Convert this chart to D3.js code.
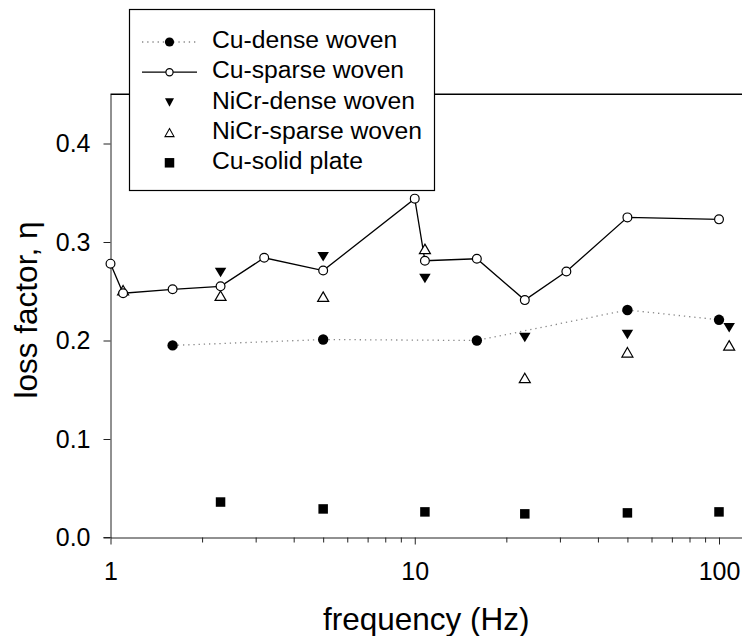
<!DOCTYPE html>
<html>
<head>
<meta charset="utf-8">
<script src="https://cdn.jsdelivr.net/npm/d3@7"></script>
<style>
    body { margin: 0; background: #fff; }
    svg { display: block; }
    text { font-family: "Liberation Sans", Arial, sans-serif; fill: #000; }
</style>
</head>
<body>
<div id="chart"></div>
<script>
// data
let cuDenseFreq = [1.6, 5, 16, 50, 100];
let cuDenseLoss = [0.195, 0.201, 0.2, 0.231, 0.221];

let cuSparseFreq = [1, 1.1, 1.6, 2.3, 3.2, 5, 10, 10.8, 16, 23, 31.5, 50, 100];
let cuSparseLoss = [0.278, 0.248, 0.252, 0.255, 0.284, 0.271, 0.344, 0.281, 0.283, 0.241, 0.27, 0.325, 0.323];

let nicrDenseFreq = [2.3, 5, 10.8, 23, 50, 108];
let nicrDenseLoss = [0.269, 0.285, 0.263, 0.203, 0.206, 0.213];

let nicrSparseFreq = [1.1, 2.3, 5, 10.8, 23, 50, 108];
let nicrSparseLoss = [0.251, 0.2455, 0.2445, 0.293, 0.162, 0.188, 0.195];

let cuSolidFreq = [2.3, 5, 10.8, 23, 50, 100];
let cuSolidLoss = [0.036, 0.029, 0.026, 0.024, 0.025, 0.026];

let legendNames = ["Cu-dense woven", "Cu-sparse woven", "NiCr-dense woven", "NiCr-sparse woven", "Cu-solid plate"];
let yTicks = [0, 0.1, 0.2, 0.3, 0.4];
let xMajorTicks = [1, 10, 100];

// init variables
let svgWidth = 742;
let svgHeight = 636;
let plotLeft = 110.5;
let plotBottom = 537.5;
let plotTop = 94.25;
let decade = 304.25;

let x = d3.scaleLog().domain([1, 120]).range([plotLeft, plotLeft + decade * Math.log10(120)]);
let y = d3.scaleLinear().domain([0, 0.45]).range([plotBottom, plotTop]);

let svg = d3.select("#chart").append("svg")
    .attr("width", svgWidth)
    .attr("height", svgHeight);

// top frame line
svg.append("line")
    .attr("x1", plotLeft).attr("x2", svgWidth)
    .attr("y1", y(0.45)).attr("y2", y(0.45))
    .attr("stroke", "#000").attr("stroke-width", 1.4);

// y axis
let yAxis = svg.append("g")
    .attr("transform", "translate(" + plotLeft + ",0)")
    .call(d3.axisLeft(y).tickValues(yTicks).tickFormat(d3.format(".1f")).tickSize(7).tickPadding(13).tickSizeOuter(0));
yAxis.select(".domain").attr("stroke", "#222");
yAxis.selectAll(".tick line").attr("stroke", "#222");
yAxis.selectAll("text").attr("font-size", "25px").attr("fill", "#000");

// x axis, minor ticks first
let minorTicks = x.ticks().filter(function (d) { return xMajorTicks.indexOf(d) < 0; });
let xMinor = svg.append("g")
    .attr("transform", "translate(0," + plotBottom + ")")
    .call(d3.axisBottom(x).tickValues(minorTicks).tickFormat("").tickSize(5).tickSizeOuter(0));
xMinor.select(".domain").attr("stroke", "#222");
xMinor.selectAll(".tick line").attr("stroke", "#222");

let xAxis = svg.append("g")
    .attr("transform", "translate(0," + plotBottom + ")")
    .call(d3.axisBottom(x).tickValues(xMajorTicks).tickFormat(d3.format("d")).tickSize(7).tickPadding(18).tickSizeOuter(0));
xAxis.select(".domain").remove();
xAxis.selectAll(".tick line").attr("stroke", "#222");
xAxis.selectAll("text").attr("font-size", "25px").attr("fill", "#000");

// x axis line runs a bit left of the y axis
svg.append("line")
    .attr("x1", plotLeft - 7).attr("x2", plotLeft)
    .attr("y1", plotBottom).attr("y2", plotBottom)
    .attr("stroke", "#222");

// axis titles
svg.append("text")
    .attr("x", (plotLeft + svgWidth) / 2)
    .attr("y", 630)
    .attr("text-anchor", "middle")
    .attr("font-size", "31.5px")
    .text("frequency (Hz)");

svg.append("text")
    .attr("transform", "translate(37,310) rotate(-90)")
    .attr("text-anchor", "middle")
    .attr("font-size", "31.5px")
    .text("loss factor, η");

// marker helpers
function triPath(w, h, up) {
    let s = up ? 1 : -1;
    return "M0," + (-s * h / 2) + "L" + (w / 2) + "," + (s * h / 2) + "L" + (-w / 2) + "," + (s * h / 2) + "Z";
}
function squarePath(w) {
    return "M" + (-w / 2) + "," + (-w / 2) + "h" + w + "v" + w + "h" + (-w) + "Z";
}

function zip(fs, vs) {
    return fs.map(function (f, i) { return { f: f, v: vs[i] }; });
}

let line = d3.line()
    .x(function (d) { return x(d.f); })
    .y(function (d) { return y(d.v); });

let cuDense = zip(cuDenseFreq, cuDenseLoss);
let cuSparse = zip(cuSparseFreq, cuSparseLoss);
let nicrDense = zip(nicrDenseFreq, nicrDenseLoss);
let nicrSparse = zip(nicrSparseFreq, nicrSparseLoss);
let cuSolid = zip(cuSolidFreq, cuSolidLoss);

// lines
svg.append("path")
    .datum(cuDense)
    .attr("d", line)
    .attr("fill", "none")
    .attr("stroke", "#888")
    .attr("stroke-width", 1.3)
    .attr("stroke-dasharray", "1.3,3.9");

svg.append("path")
    .datum(cuSparse)
    .attr("d", line)
    .attr("fill", "none")
    .attr("stroke", "#000")
    .attr("stroke-width", 1.3);

// markers
function place(d) { return "translate(" + x(d.f) + "," + y(d.v) + ")"; }

svg.selectAll(".nicr-sparse").data(nicrSparse).enter().append("path")
    .attr("class", "nicr-sparse")
    .attr("transform", place)
    .attr("d", triPath(11, 9.5, true))
    .attr("fill", "#fff").attr("stroke", "#000").attr("stroke-width", 1.2);

svg.selectAll(".nicr-dense").data(nicrDense).enter().append("path")
    .attr("class", "nicr-dense")
    .attr("transform", place)
    .attr("d", triPath(11.5, 9.5, false))
    .attr("fill", "#000");

svg.selectAll(".cu-sparse").data(cuSparse).enter().append("circle")
    .attr("class", "cu-sparse")
    .attr("cx", function (d) { return x(d.f); })
    .attr("cy", function (d) { return y(d.v); })
    .attr("r", 4.4)
    .attr("fill", "#fff").attr("stroke", "#000").attr("stroke-width", 1.2);

svg.selectAll(".cu-dense").data(cuDense).enter().append("circle")
    .attr("class", "cu-dense")
    .attr("cx", function (d) { return x(d.f); })
    .attr("cy", function (d) { return y(d.v); })
    .attr("r", 5.2)
    .attr("fill", "#000");

svg.selectAll(".cu-solid").data(cuSolid).enter().append("path")
    .attr("class", "cu-solid")
    .attr("transform", place)
    .attr("d", squarePath(9.5))
    .attr("fill", "#000");

// legend
let legend = svg.append("g");
legend.append("rect")
    .attr("x", 129.5).attr("y", 9.5)
    .attr("width", 305).attr("height", 181)
    .attr("fill", "#fff").attr("stroke", "#000").attr("stroke-width", 1.2);

let rowY = function (i) { return 39.5 + i * 30.2; };
let symY = function (i) { return rowY(i) + 2.5; };
let symX = 169.5;

legend.selectAll(".leg-text").data(legendNames).enter().append("text")
    .attr("class", "leg-text")
    .attr("x", 212)
    .attr("y", function (d, i) { return rowY(i); })
    .attr("dy", "0.35em")
    .attr("font-size", "24.7px")
    .text(function (d) { return d; });

legend.append("line")
    .attr("x1", 142).attr("x2", 196).attr("y1", symY(0)).attr("y2", symY(0))
    .attr("stroke", "#888").attr("stroke-width", 1.3).attr("stroke-dasharray", "1.3,3.9");
legend.append("circle")
    .attr("cx", symX).attr("cy", symY(0)).attr("r", 4.6).attr("fill", "#000");

legend.append("line")
    .attr("x1", 142).attr("x2", 197).attr("y1", symY(1)).attr("y2", symY(1))
    .attr("stroke", "#000").attr("stroke-width", 1.3);
legend.append("circle")
    .attr("cx", symX).attr("cy", symY(1)).attr("r", 3.6)
    .attr("fill", "#fff").attr("stroke", "#000").attr("stroke-width", 1.2);

legend.append("path")
    .attr("transform", "translate(" + symX + "," + symY(2) + ")")
    .attr("d", triPath(9, 8.5, false)).attr("fill", "#000");

legend.append("path")
    .attr("transform", "translate(" + symX + "," + symY(3) + ")")
    .attr("d", triPath(9, 8, true))
    .attr("fill", "#fff").attr("stroke", "#000").attr("stroke-width", 1.1);

legend.append("path")
    .attr("transform", "translate(" + symX + "," + symY(4) + ")")
    .attr("d", squarePath(9.5)).attr("fill", "#000");
</script>
</body>
</html>
